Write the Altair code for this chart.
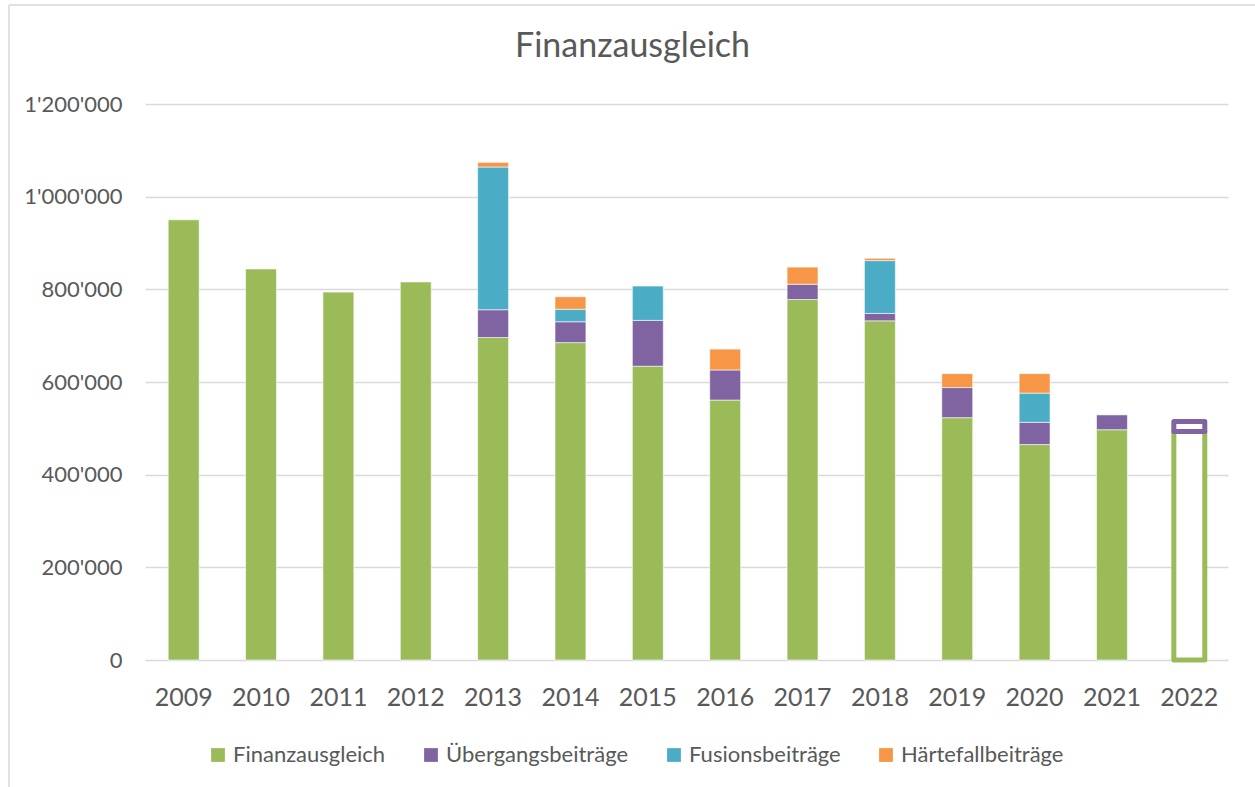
import altair as alt
import pandas as pd

years = ["2009", "2010", "2011", "2012", "2013", "2014", "2015", "2016", "2017", "2018", "2019", "2020", "2021", "2022"]
series = ["Finanzausgleich", "Übergangsbeiträge", "Fusionsbeiträge", "Härtefallbeiträge"]
colors = ["#9BBB59", "#8064A2", "#4BACC6", "#F79646"]

finanzausgleich = [950000, 844000, 794000, 816000, 696000, 685000, 634000, 561000, 778000, 732000, 523000, 465000, 497000, 493000]
uebergang = [0, 0, 0, 0, 60000, 45000, 99000, 65000, 33000, 16000, 65000, 48000, 32000, 22000]
fusion = [0, 0, 0, 0, 308000, 27000, 74000, 0, 0, 114000, 0, 63000, 0, 0]
haerte = [0, 0, 0, 0, 10000, 27000, 0, 45000, 37000, 5000, 30000, 42000, 0, 0]

rows = []
for i, y in enumerate(years):
    for k, (name, vals) in enumerate(zip(series, [finanzausgleich, uebergang, fusion, haerte])):
        if vals[i] > 0:
            rows.append({"Jahr": y, "Serie": name, "Wert": vals[i], "ord": k, "budget": y == "2022"})
df = pd.DataFrame(rows)

FONT = "Lato"
GREY = "#595959"

x_enc = alt.X("Jahr:N", sort=years, title=None,
              scale=alt.Scale(domain=years, paddingInner=0.6, paddingOuter=0.3),
              axis=alt.Axis(labelAngle=0, labelFontSize=25, labelColor=GREY, labelFont=FONT,
                            labelPadding=25, ticks=False, tickSize=0, domain=False, grid=False))
y_enc = alt.Y("Wert:Q", stack="zero", title=None,
              scale=alt.Scale(domain=[0, 1200000], nice=False),
              axis=alt.Axis(values=[0, 200000, 400000, 600000, 800000, 1000000, 1200000],
                            labelExpr="replace(format(datum.value, ',d'), /,/g, \"'\")",
                            labelFontSize=22, labelColor=GREY, labelFont=FONT, labelPadding=23,
                            ticks=False, tickSize=0, domain=False,
                            gridColor="#d9d9d9", gridWidth=1.3))
color_enc = alt.Color("Serie:N", sort=series,
                      scale=alt.Scale(domain=series, range=colors),
                      legend=alt.Legend(title=None, orient="none", direction="horizontal",
                                        legendX=62, legendY=640, symbolType="square",
                                        symbolSize=190, symbolStrokeWidth=0,
                                        labelFontSize=22, labelColor=GREY, labelFont=FONT,
                                        labelLimit=0, columnPadding=34, labelOffset=4))

base = alt.Chart(df)

filled = base.transform_filter("!datum.budget").mark_bar(stroke="white", strokeWidth=0.6).encode(
    x=x_enc, y=y_enc, color=color_enc, order=alt.Order("ord:Q")
)

hollow = base.transform_filter("datum.budget").mark_bar(fill="white", strokeWidth=5, strokeJoin="round").encode(
    x=x_enc, y=y_enc, stroke=alt.Stroke("Serie:N", scale=alt.Scale(domain=series, range=colors), legend=None),
    order=alt.Order("ord:Q")
)

frame_df = alt.Data(values=[{"a": 1}])
left_line = alt.Chart(frame_df).mark_rule(color="#d9d9d9", strokeWidth=1.5).encode(
    x=alt.value(-136), y=alt.value(-99), y2=alt.value(683)
)
top_line = alt.Chart(frame_df).mark_rule(color="#d9d9d9", strokeWidth=1.5).encode(
    x=alt.value(-136), x2=alt.value(1110), y=alt.value(-99)
)

chart = alt.layer(left_line, top_line, filled, hollow).properties(
    width=1083, height=556,
    title=alt.TitleParams("Finanzausgleich", fontSize=34, font=FONT, color=GREY, fontWeight="normal",
                          anchor="middle", dx=-54, offset=-87, baseline="alphabetic"),
    autosize=alt.AutoSizeParams(type="none"),
    padding={"left": 145, "top": 104, "right": 27, "bottom": 127},
    background="white",
).configure_view(stroke=None).resolve_scale(color="independent")

chart.save("out.html", embed_options={"renderer": "svg", "actions": False})
